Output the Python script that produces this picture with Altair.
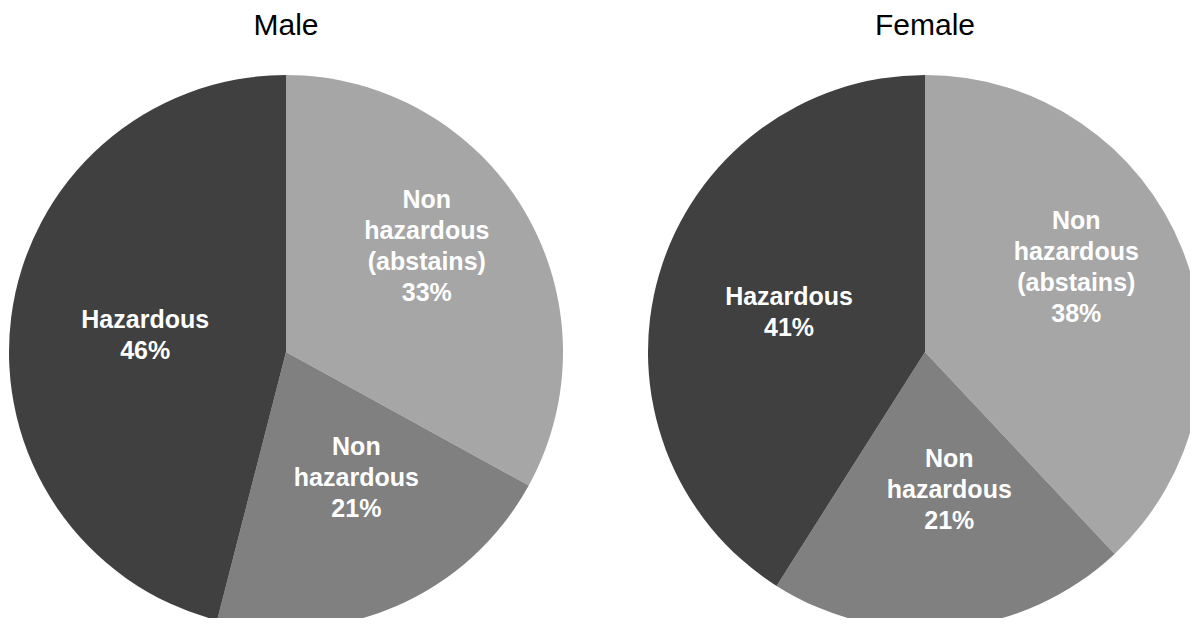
import altair as alt
import pandas as pd

genders = ["Male", "Female"]
categories = ["Non\nhazardous\n(abstains)", "Non\nhazardous", "Hazardous"]
male_values = [33, 21, 46]
female_values = [38, 21, 41]
colors = ["#a6a6a6", "#808080", "#404040"]

LINE_H = 31

rows = []
for g, vals in zip(genders, [male_values, female_values]):
    for i, (c, v) in enumerate(zip(categories, vals)):
        label = f"{c}\n{v}%"
        rows.append({"gender": g, "category": c, "value": v, "order": i,
                     "label": label,
                     "nlines": label.count("\n") + 1})
df = pd.DataFrame(rows)

centers = {"Male": (278, 344), "Female": (917, 344)}
R = 277
LABEL_R = 152
DX, DY = 10, 18

color_scale = alt.Scale(domain=categories, range=colors)

layers = []
base = alt.Chart(df)
for g in genders:
    cx, cy = centers[g]
    sub = base.transform_filter(alt.datum.gender == g)
    arc = sub.mark_arc(radius=R, stroke=None).encode(
        theta=alt.Theta("value:Q", stack=True),
        order=alt.Order("order:Q"),
        color=alt.Color("category:N", scale=color_scale, legend=None),
        x=alt.value(cx),
        y=alt.value(cy),
    )
    txt = sub.transform_window(
        cum="sum(value)", sort=[alt.SortField("order")], frame=[None, 0]
    ).transform_joinaggregate(
        total="sum(value)"
    ).transform_calculate(
        ang="2 * PI * (datum.cum - datum.value / 2) / datum.total"
    ).transform_calculate(
        px=f"{cx} + {LABEL_R} * sin(datum.ang) + {DX}",
        py=f"{cy} - {LABEL_R} * cos(datum.ang) - (datum.nlines - 1) * {LINE_H} + {DY}",
    ).mark_text(
        font="Liberation Sans", fontSize=25, fontWeight="bold",
        color="white", lineBreak="\n", lineHeight=LINE_H, align="center", baseline="middle",
    ).encode(
        text="label:N",
        x=alt.X("px:Q", scale=None),
        y=alt.Y("py:Q", scale=None),
    )
    title = alt.Chart(alt.Data(values=[{"t": g}])).mark_text(
        font="Liberation Sans", fontSize=30, color="black", align="center", baseline="alphabetic"
    ).encode(text="t:N", x=alt.value(cx), y=alt.value(27))
    layers += [arc, txt, title]

chart = alt.layer(*layers).properties(
    width=1182, height=610, padding=0, autosize=alt.AutoSizeParams(type="none")
).configure_view(stroke=None).resolve_scale(theta="independent")

chart.save("out.html", embed_options={"renderer": "svg", "actions": False})
